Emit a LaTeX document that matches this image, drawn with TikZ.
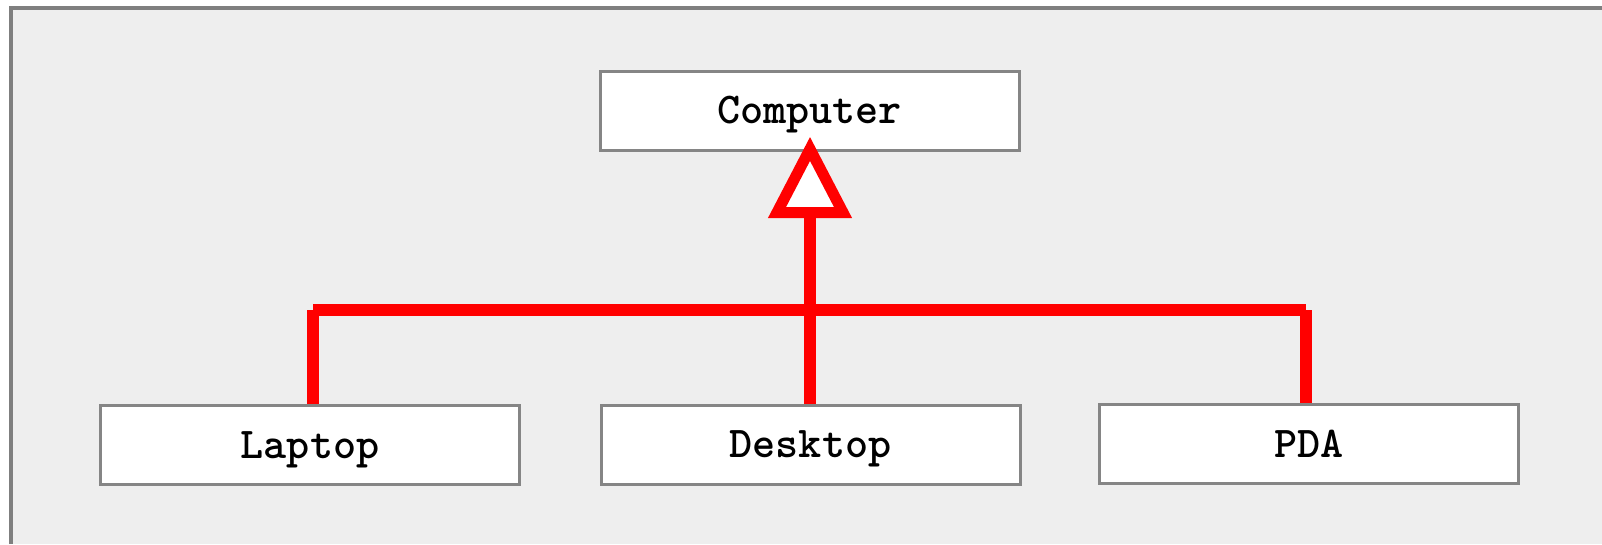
\documentclass[tikz,border=0pt]{standalone}
\usepackage{fontspec}
\definecolor{bgc}{HTML}{EEEEEE}
\definecolor{framec}{HTML}{7F7F7F}
\definecolor{boxc}{HTML}{858585}
\definecolor{redc}{HTML}{FF0000}
\begin{document}
\begin{tikzpicture}[x=1pt,y=-1pt,
  cls/.style={draw=boxc,line width=3pt,fill=white,minimum width=419pt,minimum height=79pt,inner sep=0pt,text height=26.5pt,text depth=0pt,font=\ttfamily\bfseries\fontsize{44}{46}\selectfont},
  redline/.style={draw=redc,line width=12pt}]
\useasboundingbox (0,0) rectangle (1602,544);
\fill[white] (0,0) rectangle (1602,544);
\fill[bgc] (9,6) rectangle (1602,544);
\draw[framec,line width=4pt] (11,544) -- (11,8) -- (1602,8);
\node[cls] (computer) at (809.5,110.5) {Computer};
\node[cls] (laptop) at (310,445) {Laptop};
\node[cls] (desktop) at (810.5,444.5) {Desktop};
\node[cls] (pda) at (1309,444) {PDA};
\coordinate (jl) at (313,310);
\coordinate (jc) at (810,310);
\coordinate (jr) at (1306,310);
\coordinate (apex) at (810,149);
\coordinate (bl) at (777,212.5);
\coordinate (br) at (843,212.5);
\coordinate (bm) at (810,212.5);
\draw[redline,line cap=butt] (jl) -- (jr);
\draw[redline] (jl) -- (jl |- laptop.north);
\draw[redline] (jr) -- (jr |- pda.north);
\draw[redline] (bm) -- (bm |- desktop.north);
\draw[draw=redc,line width=11pt,fill=white,line join=miter] (apex) -- (br) -- (bl) -- cycle;
\end{tikzpicture}
\end{document}
